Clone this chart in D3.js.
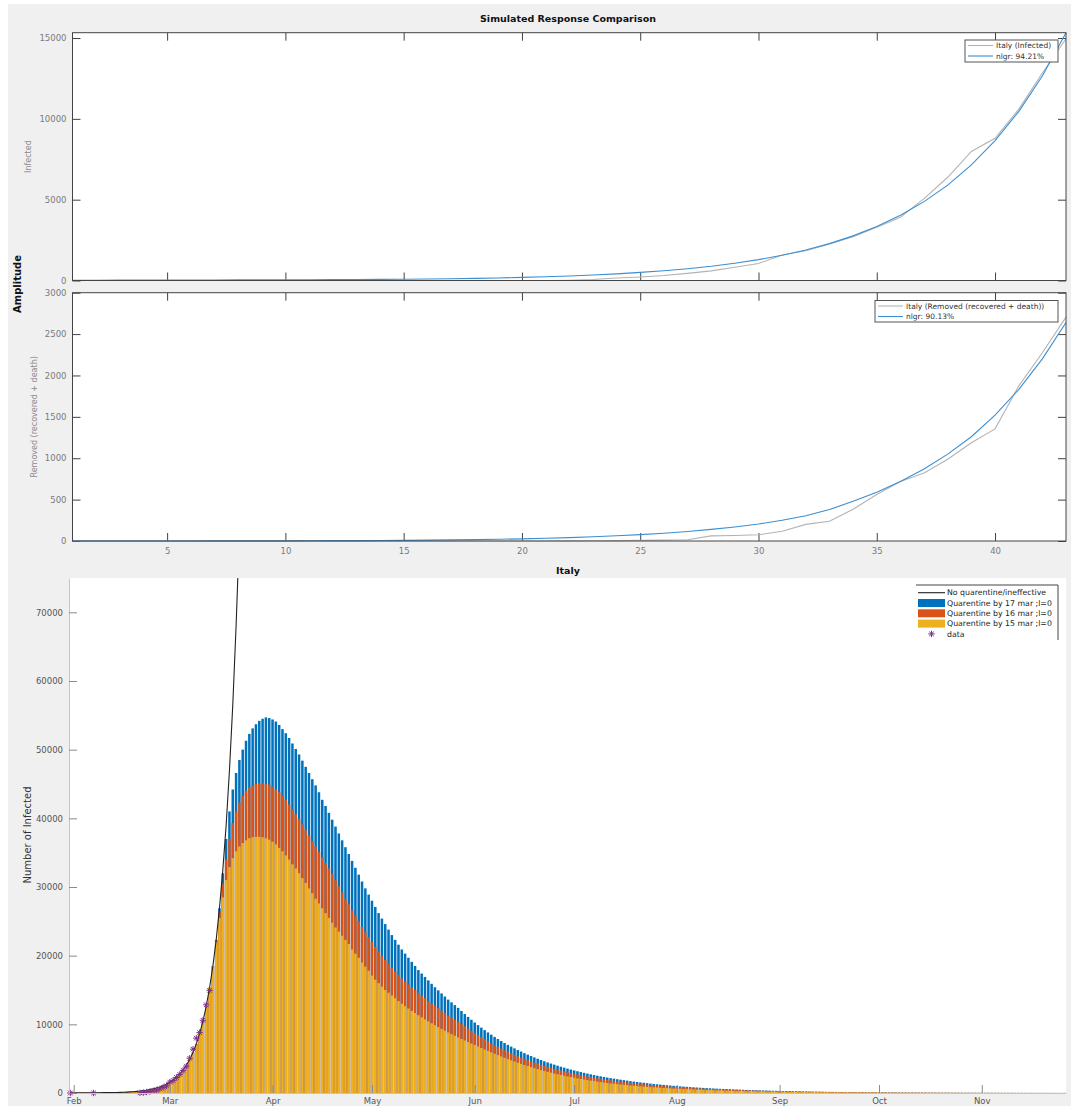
<!DOCTYPE html>
<html>
<head>
<meta charset="utf-8">
<script src="https://cdn.jsdelivr.net/npm/d3@7"></script>
<style>
  body { margin: 0; background: #fff; }
  text { font-family: "DejaVu Sans", sans-serif; }
</style>
</head>
<body>
<div id="chart"></div>
<script>
// ---- top: simulated response comparison, days 1..43 (31 jan .. 13 mar)
var infectedData = [2,2,2,2,2,2,2,3,3,3,3,3,3,3,3,3,3,3,3,3,3,
  19,59,150,221,311,438,593,821,1053,1577,1835,2263,2706,3296,3916,5061,6387,7985,8794,10590,12839,14955];
var infectedFit = [18,20,22,24,27,30,33,36,40,45,50,56,62,68,76,90,108,131,159,192,
  232,280,340,410,500,600,730,880,1070,1290,1560,1890,2280,2760,3340,4040,4880,5900,7150,8650,
  10450,12650,15330];
var removedData = [0,0,0,0,0,0,0,0,0,0,0,0,0,0,0,0,0,0,0,0,0,
  1,3,5,8,11,15,62,67,75,117,201,239,383,562,720,822,988,1187,1355,1872,2274,2705];
var removedFit = [0,0,0,0,0,0,1,1,2,2,3,4,5,6,8,10,13,17,21,26,
  33,41,51,63,77,94,115,140,170,205,250,305,380,480,590,720,870,1050,1260,1520,
  1830,2200,2640];
var xTicksTop = [5,10,15,20,25,30,35,40];
var yTicksInfected = [0,5000,10000,15000];
var yTicksRemoved = [0,500,1000,1500,2000,2500,3000];

// ---- bottom: Italy scenarios, one value per day from 31 jan
var noQuarantineTail = [18500,22300,27000,32500,39000,47000,56500,68000,81500,98000];
var yellow15Head = [22000,25500,28500,31000,32900,34200,35200,35900,36400,36800,
  37100,37250,37300,37300,37250,37100,36900,36600,36200,35700,
  35200,34600,34000,33300,32700,32000,31300,30600,29800,29100,
  28300,27600,26900,26200,25500,24800,24100,23500,22900,22300,
  21700,20900,20300,19700,19000,18400,17800,17100,16500,16000,
  15500,15000,14600,14200,13800,13400,13000,12650,12300,11970,
  11650,11330,11020,10720,10430,10150,9870,9600,9340,9080,
  8830,8580,8340,8100];
var yellow15Tail = [7870,7650,7430,7210,6990,6770,6550,6340,6130,5920,
  5720,5520,5320,5130,4940,4760,4580,4410,4240,4080,
  3920,3770,3620,3480,3340,3210,3080,2960,2840,2730,
  2620,2510,2410,2310,2220,2130,2040,1960,1880,1800,
  1730,1660,1590,1520,1460,1400,1340,1290,1240,1190,
  1140,1090,1050,1010,970,930,890,860,820,790,
  760,730,700,670,640,620,590,570,550,530,
  510,490,470,450,430,410,400,380,370,350,
  340,320,310,300,290,280,270,260,250,240,
  230,220,210,200,195,187,180,172,165,158,
  152,146,140,134,129,124,119,114,110,105,
  101,97,93,89,86,82,79,76,73,70,
  67,64,62,59,57,55,52,50,48,46,
  44,43,41,39,38,36,35,33,32,31,
  29,28,27,26,25,24,23,22,21,20,
  19,19,18,17,16,16,15,14,14,13,
  13,12,12,11,11,10,10,9,9,9,
  8,8,8,7,7,7,7,6,6,6,
  6,5,5];
var orange16Head = [22300,26500,30500,34000,37000,39300,41000,42300,43300,44000,
  44500,44800,45000,45100,45100,45000,44900,44600,44200,43800,
  43300,42700,42000,41300,40600,39900,39100,38300,37500,36700,
  35900,35100,34300,33500,32700,31900,31000,30100,29200,28300,
  27500,26600,25800,25000,24200,23400,22700,22000,21300,20600,
  20000,19400,18800,18200,17700,17200,16700,16200,15800,15400,
  15000,14600,14200,13800,13400,13000,12700,12350,12000,11650,
  11300,10980,10660,10350];
var orange16Tail = [10050,9720,9380,9050,8730,8420,8110,7820,7530,7250,
  6980,6720,6470,6230,6000,5780,5560,5350,5150,4960,
  4770,4590,4420,4260,4100,3950,3800,3660,3520,3390,
  3260,3140,3020,2910,2800,2700,2600,2500,2410,2320,
  2230,2150,2070,1990,1920,1850,1780,1710,1650,1590,
  1530,1470,1420,1370,1320,1270,1220,1180,1130,1090,
  1050,1010,970,930,900,870,830,800,770,740,
  710,690,660,640,610,590,570,550,530,510,
  490,470,450,440,420,400,390,370,360,350,
  330,320,310,300,290,280,270,260,250,240,
  230,220,210,200,190,185,178,170,165,158,
  152,146,140,135,130,125,120,115,111,107,
  103,99,95,91,88,85,81,78,75,72,
  70,67,64,62,60,57,55,53,51,49,
  47,45,44,42,40,39,37,36,35,33,
  32,31,29,28,27,26,25,24,23,22,
  21,20,19,19,18,17,16,16,15,14,
  14,13,13,12,12,11,11,10,10,9,
  9,9,8];
var blue17Head = [22300,26900,32000,37000,41000,44200,46600,48500,50000,51300,
  52300,53100,53700,54200,54500,54700,54600,54400,54100,53600,
  53000,52400,51700,50900,50100,49300,48400,47500,46600,45700,
  44800,43800,42700,41800,40800,39800,38800,37800,36800,35800,
  34800,33800,32800,31800,30800,29800,28900,28000,27100,26200,
  25400,24600,23800,23000,22300,21600,20900,20300,19700,19100,
  18500,17900,17400,16900,16400,15900,15400,14950,14500,14050,
  13600,13200,12800,12400];
var blue17Tail = [11950,11500,11080,10670,10270,9890,9520,9160,8820,8490,
  8170,7860,7570,7280,7010,6750,6500,6260,6030,5800,
  5590,5380,5180,4990,4800,4620,4450,4290,4130,3980,
  3830,3690,3550,3420,3290,3170,3050,2940,2830,2720,
  2620,2520,2430,2340,2250,2170,2090,2010,1940,1870,
  1800,1730,1660,1600,1540,1480,1430,1370,1320,1270,
  1220,1180,1130,1090,1050,1010,970,930,900,860,
  830,800,770,740,710,690,660,640,610,590,
  570,550,530,510,490,470,450,430,420,400,
  390,370,360,340,330,320,300,290,280,270,
  260,250,240,230,220,210,200,195,187,180,
  173,166,160,154,148,142,137,131,126,121,
  117,112,108,104,100,96,92,89,85,82,
  79,76,73,70,67,65,62,60,58,55,
  53,51,49,47,45,44,42,40,39,37,
  36,34,33,32,30,29,28,27,26,25,
  24,23,22,21,20,19,19,18,17,16,
  16,15,14,14,13,13,12,12,11,11,
  10,10,9];
var dataDays = [0,7,21,22,23,24,25,26,27,28,29,30,31,32,33,34,35,36,37,38,39,40,41,42];
var yTicksBottom = [0,10000,20000,30000,40000,50000,60000,70000];

var noQuarantine = infectedFit.concat(noQuarantineTail);
var shared = noQuarantine.slice(0, 44);
var yellow15 = shared.concat(yellow15Head, yellow15Tail);
var orange16 = shared.concat(orange16Head, orange16Tail);
var blue17 = shared.concat(blue17Head, blue17Tail);

var W = 1071, H = 1106;
var svg = d3.select("#chart").append("svg").attr("width", W).attr("height", H);
svg.append("rect").attr("x", 8).attr("y", 4).attr("width", W - 8).attr("height", H - 4).attr("fill", "#f0f0f0");

var days = d3.range(1, infectedData.length + 1);
var xT = d3.scaleLinear().domain([1, 43]).range([72.5, 1066]);

function topPanel(y0, y1, ymax, yTicks, data, fit, label, labelX, legendNames, legendBox, showX) {
  var y = d3.scaleLinear().domain([0, ymax]).range([y1, y0]);
  var g = svg.append("g");
  g.append("rect").attr("x", 72.5).attr("y", y0).attr("width", 1066 - 72.5).attr("height", y1 - y0)
    .attr("fill", "#fff");

  function style(a) {
    a.select(".domain").remove();
    a.selectAll(".tick line").attr("stroke", "#404040");
    a.selectAll(".tick text").attr("fill", "#7a7a7a").style("font-size", "8.5px");
  }
  g.append("g").attr("transform", "translate(0," + y1 + ")")
    .call(d3.axisBottom(xT).tickValues(xTicksTop).tickSize(-8).tickPadding(7)
      .tickFormat(showX ? d3.format("d") : function () { return ""; }))
    .call(style);
  g.append("g").attr("transform", "translate(0," + y0 + ")")
    .call(d3.axisTop(xT).tickValues(xTicksTop).tickSize(-8).tickFormat(function () { return ""; }))
    .call(style);
  g.append("g").attr("transform", "translate(72.5,0)")
    .call(d3.axisLeft(y).tickValues(yTicks).tickSize(-8).tickPadding(6).tickFormat(d3.format("d")))
    .call(style);
  g.append("g").attr("transform", "translate(1066,0)")
    .call(d3.axisRight(y).tickValues(yTicks).tickSize(-8).tickFormat(function () { return ""; }))
    .call(style);

  var line = d3.line().x(function (d, i) { return xT(days[i]); }).y(function (d) { return y(d); });
  g.append("path").datum(data).attr("d", line).attr("fill", "none")
    .attr("stroke", "#b3b3b3").attr("stroke-width", 1.1);
  g.append("path").datum(fit).attr("d", line).attr("fill", "none")
    .attr("stroke", "#3b8fd2").attr("stroke-width", 1.1);

  g.append("rect").attr("x", 72.5).attr("y", y0).attr("width", 1066 - 72.5).attr("height", y1 - y0)
    .attr("fill", "none").attr("stroke", "#444").attr("stroke-width", 1);

  g.append("text").attr("transform", "translate(" + labelX + "," + ((y0 + y1) / 2) + ") rotate(-90)")
    .attr("text-anchor", "middle").attr("fill", "#8a8a8a").style("font-size", "8px").text(label);

  // legend
  var lb = legendBox;
  g.append("rect").attr("x", lb[0]).attr("y", lb[1]).attr("width", lb[2]).attr("height", lb[3])
    .attr("fill", "#fff").attr("stroke", "#555").attr("stroke-width", 1);
  var colors = ["#b3b3b3", "#3b8fd2"];
  legendNames.forEach(function (name, i) {
    var ly = lb[1] + 5.5 + i * 10.5;
    g.append("line").attr("x1", lb[0] + 3).attr("x2", lb[0] + 28).attr("y1", ly).attr("y2", ly)
      .attr("stroke", colors[i]).attr("stroke-width", 1.1);
    g.append("text").attr("x", lb[0] + 31).attr("y", ly).attr("dy", "0.35em")
      .attr("fill", "#333").style("font-size", "7.5px").text(name);
  });
}

topPanel(32.7, 280.5, 15330, yTicksInfected, infectedData, infectedFit, "Infected", 31,
  ["Italy (Infected)", "nlgr: 94.21%"], [965, 40, 93, 22], false);
topPanel(292.7, 541, 3000, yTicksRemoved, removedData, removedFit, "Removed (recovered + death)", 37,
  ["Italy (Removed (recovered + death))", "nlgr: 90.13%"], [875, 300.5, 183, 21.5], true);

svg.append("text").attr("x", 568).attr("y", 22).attr("text-anchor", "middle")
  .style("font-size", "9.5px").style("font-weight", "bold").attr("fill", "#111")
  .text("Simulated Response Comparison");
svg.append("text").attr("transform", "translate(21,284) rotate(-90)").attr("text-anchor", "middle")
  .style("font-size", "10px").style("font-weight", "bold").attr("fill", "#111").text("Amplitude");

// ---- bottom panel
var bx0 = 69, bx1 = 1066, by0 = 578, by1 = 1093;
var start = new Date(2020, 0, 31);
var xB = d3.scaleTime()
  .domain([d3.timeHour.offset(start, -10), d3.timeHour.offset(d3.timeDay.offset(start, 300), 10)])
  .range([bx0, bx1]);
var yB = d3.scaleLinear().domain([0, 75000]).range([by1, by0]);
function dayDate(i) { return d3.timeDay.offset(start, i); }

var gb = svg.append("g");
gb.append("rect").attr("x", bx0).attr("y", by0).attr("width", bx1 - bx0).attr("height", by1 - by0)
  .attr("fill", "#fff");
svg.append("clipPath").attr("id", "clipB").append("rect")
  .attr("x", bx0).attr("y", by0).attr("width", bx1 - bx0).attr("height", by1 - by0);

var bw = (xB(dayDate(1)) - xB(dayDate(0))) * 0.76;
[[blue17, "#0072BD"], [orange16, "#D95319"], [yellow15, "#EDB120"]].forEach(function (s) {
  gb.append("g").selectAll("rect").data(s[0]).enter().append("rect")
    .attr("x", function (d, i) { return xB(dayDate(i)) - bw / 2; })
    .attr("y", function (d) { return yB(d); })
    .attr("width", bw)
    .attr("height", function (d) { return yB(0) - yB(d); })
    .attr("fill", s[1]);
});

gb.append("path").datum(noQuarantine).attr("clip-path", "url(#clipB)")
  .attr("d", d3.line().x(function (d, i) { return xB(dayDate(i)); }).y(function (d) { return yB(d); }))
  .attr("fill", "none").attr("stroke", "#222").attr("stroke-width", 1.1);

var star = "M-3.2,0H3.2M0,-3.2V3.2M-2.3,-2.3L2.3,2.3M-2.3,2.3L2.3,-2.3";
gb.append("g").selectAll("path").data(dataDays).enter().append("path")
  .attr("transform", function (d) { return "translate(" + xB(dayDate(d)) + "," + yB(infectedData[d]) + ")"; })
  .attr("d", star).attr("fill", "none").attr("stroke", "#7E2F8E").attr("stroke-width", 1);

function styleB(a) {
  a.select(".domain").attr("stroke", "#c4c4c4");
  a.selectAll(".tick line").attr("stroke", "#8a8a8a");
  a.selectAll(".tick text").attr("fill", "#555").style("font-size", "8.5px");
}
gb.append("g").attr("transform", "translate(0," + by1 + ")")
  .call(d3.axisBottom(xB).ticks(d3.timeMonth.every(1)).tickSize(-8).tickSizeOuter(0).tickPadding(5)
    .tickFormat(d3.timeFormat("%b")))
  .call(styleB);
gb.append("g").attr("transform", "translate(" + bx0 + ",0)")
  .call(d3.axisLeft(yB).tickValues(yTicksBottom).tickSize(-8).tickSizeOuter(0).tickPadding(6)
    .tickFormat(d3.format("d")))
  .call(styleB);

svg.append("text").attr("x", 568).attr("y", 574).attr("text-anchor", "middle")
  .style("font-size", "9.5px").style("font-weight", "bold").attr("fill", "#111").text("Italy");
svg.append("text").attr("transform", "translate(31,835) rotate(-90)").attr("text-anchor", "middle")
  .style("font-size", "10px").attr("fill", "#333").text("Number of Infected");

// bottom legend
var lgx = 916, lgy = 585;
var lg = svg.append("g");
lg.append("rect").attr("x", lgx).attr("y", lgy).attr("width", 1058 - lgx).attr("height", 55).attr("fill", "#fff");
lg.append("path").attr("d", "M" + lgx + "," + lgy + "H1058V640").attr("fill", "none").attr("stroke", "#444");
var legendItems = [
  { name: "No quarentine/ineffective", type: "line", color: "#222" },
  { name: "Quarentine by 17 mar ;l=0", type: "bar", color: "#0072BD" },
  { name: "Quarentine by 16 mar ;l=0", type: "bar", color: "#D95319" },
  { name: "Quarentine by 15 mar ;l=0", type: "bar", color: "#EDB120" },
  { name: "data", type: "mark", color: "#7E2F8E" }
];
legendItems.forEach(function (it, i) {
  var ly = lgy + 7.7 + i * 10.3;
  if (it.type === "line") {
    lg.append("line").attr("x1", lgx + 2).attr("x2", lgx + 29).attr("y1", ly).attr("y2", ly)
      .attr("stroke", it.color).attr("stroke-width", 1.1);
  } else if (it.type === "bar") {
    lg.append("rect").attr("x", lgx + 2).attr("y", ly - 4).attr("width", 27).attr("height", 8).attr("fill", it.color);
  } else {
    lg.append("path").attr("transform", "translate(" + (lgx + 15.5) + "," + ly + ")")
      .attr("d", star).attr("fill", "none").attr("stroke", it.color);
  }
  lg.append("text").attr("x", lgx + 31).attr("y", ly).attr("dy", "0.35em")
    .attr("fill", "#222").style("font-size", "7.8px").text(it.name);
});
</script>
</body>
</html>
